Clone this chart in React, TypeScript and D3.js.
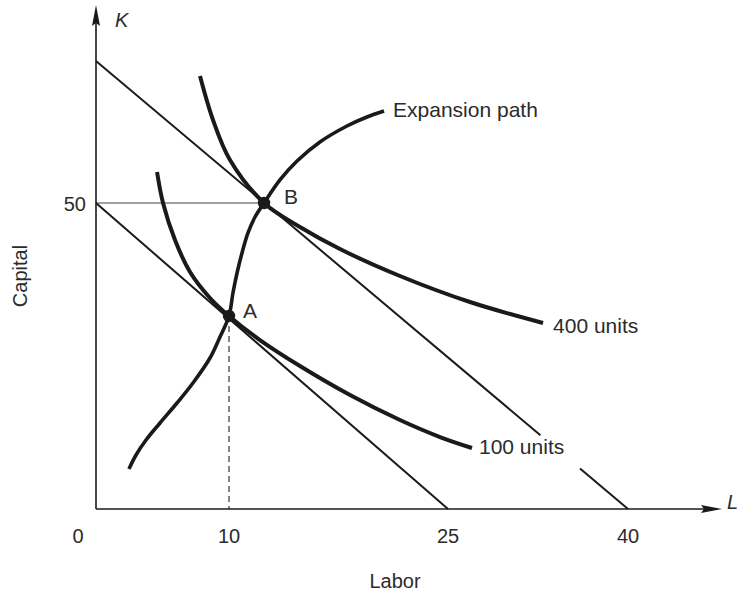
import React from 'react';
import * as d3 from 'd3';

// ---- data ----
const laborTicks = [0, 10, 25, 40];
const capitalTicks = [50];
const isoquant100: [number, number][] = [
  [4.59, 55.07], [5.04, 50.0], [5.94, 43.95], [7.07, 38.73], [8.57, 34.48], [10, 31.54],
  [12.12, 27.61], [14.86, 23.37], [18.29, 18.63], [21.71, 14.54], [24.45, 11.76], [27.0, 9.97],
];
const isoquant400: [number, number][] = [
  [7.82, 70.75], [8.8, 63.56], [10.07, 57.03], [12.4, 50], [14.86, 46.08], [17.6, 42.48],
  [21.71, 38.07], [26.83, 33.82], [32.92, 30.39],
];
const expansionPath: [number, number][] = [
  [2.48, 6.54], [3.01, 8.82], [3.76, 11.27], [4.81, 14.05], [6.09, 17.32], [7.29, 20.59],
  [8.57, 24.67], [9.32, 28.1], [10, 31.54], [10.27, 35.29], [10.55, 38.56], [10.89, 41.83],
  [11.3, 45.1], [11.78, 47.71], [12.4, 50], [13.49, 53.76], [14.66, 56.86], [16.23, 59.97],
  [18.08, 62.58], [19.45, 64.05], [20.62, 65.03],
];
const isocostLow: [number, number][] = [[0, 50], [25, 0]];
const isocostHigh: [number, number][] = [[0, 73.2], [40, 0]];
const isocostHighGap = [32.7, 36.0];
const pointA = { label: 'A', L: 10, K: 31.54 };
const pointB = { label: 'B', L: 12.4, K: 50 };
const curveLabels = ['100 units', '400 units', 'Expansion path'];

const W = 740;
const H = 594;
const FONT = "'Liberation Sans', Arial, Helvetica, sans-serif";
const INK = '#1a1a1a';
const TEXT = '#2b2b2b';

export default function App() {
  const x = d3.scaleLinear().domain([0, 10, 25, 40]).range([96, 229, 448, 628]);
  const y = d3.scaleLinear().domain([0, 50]).range([509, 203]);
  const x0 = x(0);
  const y0 = y(0);

  const line = d3
    .line<[number, number]>()
    .x((d) => x(d[0]))
    .y((d) => y(d[1]))
    .curve(d3.curveCatmullRom.alpha(0.5));
  const straight = d3
    .line<[number, number]>()
    .x((d) => x(d[0]))
    .y((d) => y(d[1]));

  // upper isocost with a gap behind the "100 units" label
  const hp0 = [x(isocostHigh[0][0]), y(isocostHigh[0][1])];
  const hp1 = [x(isocostHigh[1][0]), y(isocostHigh[1][1])];
  const onHigh = (L: number) => {
    const px = x(L);
    const t = (px - hp0[0]) / (hp1[0] - hp0[0]);
    return [px, hp0[1] + t * (hp1[1] - hp0[1])];
  };
  const g0 = onHigh(isocostHighGap[0]);
  const g1 = onHigh(isocostHighGap[1]);

  const end100 = isoquant100[isoquant100.length - 1];
  const end400 = isoquant400[isoquant400.length - 1];
  const endExp = expansionPath[expansionPath.length - 1];

  const axisEndX = 722;
  const axisTopY = 5;

  return (
    <svg
      width={W}
      height={H}
      viewBox={`0 0 ${W} ${H}`}
      style={{ position: 'absolute', left: 0, top: 0, background: '#fff' }}
      fontFamily={FONT}
    >
      <rect x={0} y={0} width={W} height={H} fill="#fff" />

      {/* guides */}
      <line x1={x0} y1={y(pointB.K)} x2={x(pointB.L)} y2={y(pointB.K)} stroke="#444" strokeWidth={1.1} />
      <line
        x1={x(pointA.L)} y1={y(pointA.K)} x2={x(pointA.L)} y2={y0}
        stroke="#333" strokeWidth={1.2} strokeDasharray="6,4"
      />

      {/* isocost lines */}
      <path d={straight(isocostLow) || ''} stroke={INK} strokeWidth={2} fill="none" />
      <line x1={hp0[0]} y1={hp0[1]} x2={g0[0]} y2={g0[1]} stroke={INK} strokeWidth={2} />
      <line x1={g1[0]} y1={g1[1]} x2={hp1[0]} y2={hp1[1]} stroke={INK} strokeWidth={2} />

      {/* curves */}
      <path d={line(isoquant100) || ''} stroke={INK} strokeWidth={4} fill="none" strokeLinejoin="round" />
      <path d={line(isoquant400) || ''} stroke={INK} strokeWidth={4} fill="none" strokeLinejoin="round" />
      <path d={line(expansionPath) || ''} stroke={INK} strokeWidth={3.6} fill="none" strokeLinejoin="round" />

      {/* axes */}
      <line x1={x0} y1={y0} x2={x0} y2={axisTopY + 14} stroke={INK} strokeWidth={1.6} />
      <path
        d={`M${x0},${axisTopY} L${x0 + 4},${axisTopY + 21} L${x0},${axisTopY + 18} L${x0 - 4},${axisTopY + 21} Z`}
        fill={INK}
      />
      <line x1={x0} y1={y0} x2={axisEndX - 14} y2={y0} stroke={INK} strokeWidth={1.6} />
      <path
        d={`M${axisEndX},${y0} L${axisEndX - 21},${y0 - 4} L${axisEndX - 18},${y0} L${axisEndX - 21},${y0 + 4} Z`}
        fill={INK}
      />

      {/* points */}
      {[pointA, pointB].map((p) => (
        <g key={p.label}>
          <circle cx={x(p.L)} cy={y(p.K)} r={6.2} fill={INK} />
          <text
            x={x(p.L) + (p.label === 'A' ? 14 : 20)}
            y={y(p.K) + (p.label === 'A' ? 2 : 1)}
            fontSize={21}
            fill={TEXT}
          >
            {p.label}
          </text>
        </g>
      ))}

      {/* curve labels */}
      <text x={x(end100[0]) + 7} y={y(end100[1]) + 6} fontSize={21} fill={TEXT}>{curveLabels[0]}</text>
      <text x={x(end400[0]) + 10} y={y(end400[1]) + 10} fontSize={21} fill={TEXT}>{curveLabels[1]}</text>
      <text x={x(endExp[0]) + 9} y={y(endExp[1]) + 6} fontSize={21} fill={TEXT}>{curveLabels[2]}</text>

      {/* tick labels */}
      {laborTicks.map((t) => (
        <text
          key={t}
          x={t === 0 ? x(t) - 18 : x(t)}
          y={543}
          textAnchor="middle"
          fontSize={20}
          fill={TEXT}
        >
          {t}
        </text>
      ))}
      {capitalTicks.map((t) => (
        <text key={t} x={x0 - 10} y={y(t) + 8} textAnchor="end" fontSize={20} fill={TEXT}>
          {t}
        </text>
      ))}

      {/* axis symbols */}
      <text x={x0 + 19} y={27} fontSize={20} fontStyle="italic" fill={TEXT}>K</text>
      <text x={727} y={509} fontSize={20} fontStyle="italic" fill={TEXT}>L</text>

      {/* axis titles */}
      <text x={395} y={588} textAnchor="middle" fontSize={20} fill={TEXT}>Labor</text>
      <text
        transform={`translate(27, 276) rotate(-90)`}
        textAnchor="middle"
        fontSize={20}
        fill={TEXT}
      >
        Capital
      </text>
    </svg>
  );
}
